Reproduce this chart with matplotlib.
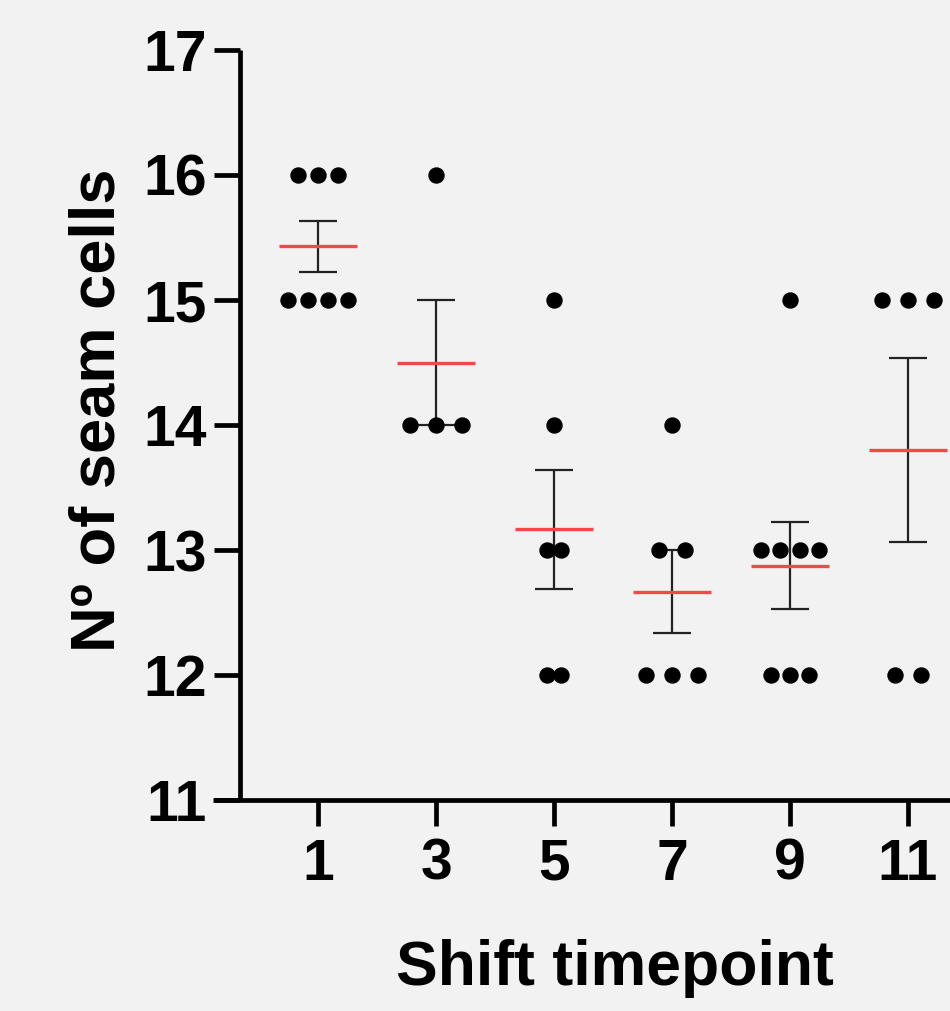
import numpy as np
import matplotlib
matplotlib.use("Agg")
import matplotlib.pyplot as plt

plt.rcParams['font.family'] = ['Liberation Sans', 'DejaVu Sans']
plt.rcParams['font.weight'] = 'bold'

# data: seam cell counts per shift timepoint
timepoints = ['1', '3', '5', '7', '9', '11']
counts = [
    [16, 16, 16, 15, 15, 15, 15],
    [16, 14, 14, 14],
    [15, 14, 13, 13, 12, 12],
    [14, 13, 13, 12, 12, 12],
    [15, 13, 13, 13, 13, 12, 12, 12],
    [15, 15, 15, 12, 12],
]
# horizontal spacing between dots sharing a value (x units)
spread = [0.17, 0.22, 0.127, 0.22, 0.165, 0.22]

bg = '#f2f2f2'
fig = plt.figure(figsize=(9.5, 10.11), dpi=100, facecolor=bg)
W, H = 950, 1011
ax = fig.add_axes([213 / W, 1 - 800 / H, 1 - 213 / W, (800 - 50) / H])
ax.set_facecolor(bg)

for i, vals in enumerate(counts):
    vals = np.array(vals)
    m = vals.mean()
    sem = vals.std(ddof=1) / np.sqrt(len(vals))
    # scatter, centred per value
    for v in np.unique(vals):
        n = np.sum(vals == v)
        xs = i + (np.arange(n) - (n - 1) / 2) * spread[i]
        ax.plot(xs, [v] * n, 'o', color='black', ms=10.8, zorder=4, clip_on=False)
    ax.errorbar(i, m, yerr=sem, fmt='none', ecolor='#222222', elinewidth=1.6,
                capsize=14, capthick=1.6, zorder=3)
    ax.plot([i - 0.33, i + 0.33], [m, m], color='#f24848', lw=2.4, zorder=3.5,
            solid_capstyle='butt')

xspine = -78 / 118
ax.set_xlim(-105 / 118, (950 - 318) / 118)
ax.set_ylim(11, 17)
ax.spines['left'].set_position(('data', xspine))
ax.spines['top'].set_visible(False)
ax.spines['right'].set_visible(False)
for s in ['left', 'bottom']:
    ax.spines[s].set_linewidth(3.4)
    ax.spines[s].set_capstyle('butt')

ax.set_xticks(range(len(timepoints)))
ax.set_xticklabels(timepoints)
ax.set_yticks(range(11, 18))
ax.tick_params(axis='both', direction='out', length=19, width=3.4,
               labelsize=41, color='black')
ax.tick_params(axis='x', pad=8)
ax.tick_params(axis='y', pad=5)

fig.text(615 / W, 1 - 968 / H, 'Shift timepoint', fontsize=45, fontweight='bold',
         ha='center', va='center')
fig.text(98 / W, 1 - 410 / H, 'Nº of seam cells', fontsize=45.5, fontweight='bold',
         ha='center', va='center', rotation=90)

fig.savefig('out.png', dpi=100, facecolor=bg)
